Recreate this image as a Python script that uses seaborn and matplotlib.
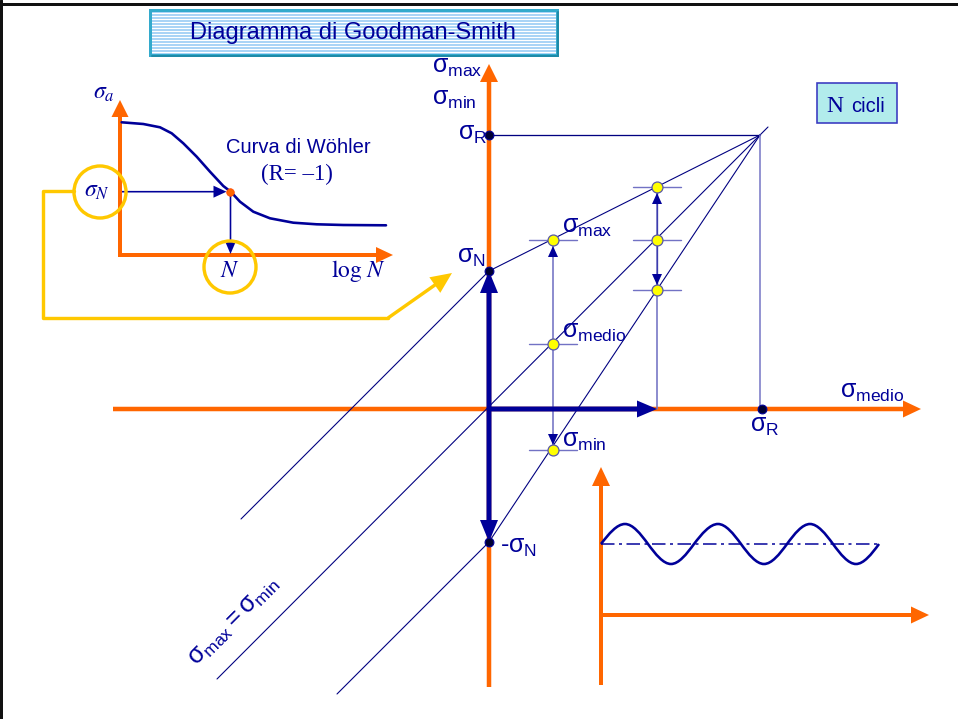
import numpy as np
import matplotlib
matplotlib.use("Agg")
import matplotlib.pyplot as plt
import seaborn as sns
from matplotlib.patches import Rectangle, Circle, PathPatch
from matplotlib.path import Path

# ---------------- values (pixel units of the schematic) -------------
# main Goodman-Smith diagram
origin_x, origin_y = 489, 409
sigma_R_y = 135            # sigma_R on the vertical axis
sigma_N_y = 271            # sigma_N
neg_sigma_N_y = 542        # -sigma_N
apex_x = 760               # sigma_medio = sigma_R
sigma_R_dot_x = 762

upper_line_x = [241, 489, 760]
upper_line_y = [519, 271, 135]
diag_line_x = [217, 768]
diag_line_y = [679, 127]
lower_line_x = [337, 489, 760]
lower_line_y = [694, 542, 135]

yellow_x = [553, 657]
yellow_max_y = [240, 187]
yellow_med_y = [344, 240]
yellow_min_y = [450, 290]

# Woehler curve (inset top left)
wohler_x = [121.7, 143.3, 160.0, 171.7, 183.3, 196.7, 210.0, 223.3, 230.7,
            240.0, 253.3, 270.0, 293.3, 316.7, 343.3, 386.0]
wohler_y = [122.3, 124.0, 127.3, 133.3, 143.3, 156.7, 171.7, 186.0, 191.7,
            201.7, 211.7, 218.3, 222.7, 224.3, 225.0, 225.3]
wohler_pt_x, wohler_pt_y = 230.5, 191.7

# yellow connector
conn_x = [74, 43, 43, 388]
conn_y = [191, 191, 318, 318]
conn_tip_x, conn_tip_y = 452, 273

# sinusoidal load history (inset bottom right): crossings / peaks / troughs
wave_x = [601, 625, 648, 671, 694, 718, 741, 764, 787, 810, 833, 856, 879]
wave_y = [544, 524, 544, 564, 544, 524, 544, 564, 544, 524, 544, 564, 544]
wave_mean_y = 544

# ---------------- style ----------------
sns.set_theme(style="white")
plt.rcParams["font.family"] = ["Liberation Sans", "DejaVu Sans"]
plt.rcParams["mathtext.fontset"] = "custom"
plt.rcParams["mathtext.rm"] = "Liberation Sans"
plt.rcParams["mathtext.it"] = "Liberation Sans"
plt.rcParams["mathtext.bf"] = "Liberation Sans:bold"

ORANGE = "#FF6600"
NAVY = "#000099"
THIN = "#000080"
LIGHT = "#7272c4"
YEL = "#FFC800"
PX = 0.72  # points per pixel at dpi 100

fig = plt.figure(figsize=(9.58, 7.19), dpi=100)
ax = fig.add_axes([0, 0, 1, 1])


def line(xs, ys, color, lw_px, z=2, **kw):
    sns.lineplot(x=xs, y=ys, sort=False, estimator=None, color=color,
                 lw=lw_px * PX, ax=ax, zorder=z, legend=False, **kw)


def arrow(x0, y0, x1, y1, color, w, hw, hl, z=3):
    ax.arrow(x0, y0, x1 - x0, y1 - y0, width=w, head_width=hw, head_length=hl,
             length_includes_head=True, fc=color, ec=color, lw=0, zorder=z)


# ---------------- page frame (top and left edges) ----------------
line([0, 958], [4, 4], "#111111", 3, z=1)
line([1.5, 1.5], [0, 719], "#111111", 3, z=1)

# ---------------- title box ----------------
ax.add_patch(Rectangle((150, 10), 407, 45, fc="#a6d2f6", ec="none", zorder=1))
ax.hlines(np.arange(12.5, 55, 3), 151, 556, color="white", lw=1.1 * PX, zorder=1.1)
ax.add_patch(Rectangle((150, 10), 407, 45, fc="none", ec="#33aacc", lw=3 * PX, zorder=1.2))
line([152, 558], [56, 56], "#1e8aa8", 2, z=1.2)
line([558, 558], [12, 56], "#1e8aa8", 2, z=1.2)
ax.text(353, 33.5, "Diagramma di Goodman-Smith", fontsize=17, color=NAVY,
        ha="center", va="center", zorder=2)

# ---------------- N cicli box ----------------
ax.add_patch(Rectangle((817, 83), 80, 40, fc="#b2ecec", ec="#3838c0", lw=1.6 * PX, zorder=1))
ax.text(843, 112, "N", fontsize=17, family="Liberation Serif", color=NAVY,
        ha="right", va="baseline", zorder=2)
ax.text(851, 112, "cicli", fontsize=14.5, color=NAVY, ha="left", va="baseline", zorder=2)

# ---------------- main axes (orange) ----------------
arrow(origin_x, 687, origin_x, 64, ORANGE, 4.5, 18, 18, z=1.5)
arrow(113, origin_y, 921, origin_y, ORANGE, 4.5, 17, 18, z=1.5)

# thin construction lines
line(upper_line_x, upper_line_y, THIN, 1.1)
line(diag_line_x, diag_line_y, THIN, 1.1)
line(lower_line_x, lower_line_y, THIN, 1.1)
line([origin_x, apex_x], [sigma_R_y, sigma_R_y], THIN, 1.3)
line([apex_x, apex_x], [sigma_R_y, origin_y], LIGHT, 1.5)

# vertical ranges at the two sigma_medio values
line([yellow_x[0], yellow_x[0]], [yellow_max_y[0], yellow_min_y[0]], LIGHT, 1.6)
line([yellow_x[1], yellow_x[1]], [yellow_max_y[1], origin_y], LIGHT, 1.6)
line([yellow_x[1], yellow_x[1]], [yellow_max_y[1], yellow_min_y[1]], "#3c3cae", 1.3, z=2.5)
for xv, ymax, ymed, ymin in zip(yellow_x, yellow_max_y, yellow_med_y, yellow_min_y):
    for yv in (ymax, ymed, ymin):
        line([xv - 24, xv + 24], [yv, yv], LIGHT, 1.4)
# small navy heads
arrow(yellow_x[0], yellow_max_y[0] + 18, yellow_x[0], yellow_max_y[0] + 6, NAVY, 0.1, 10, 11, z=3)
arrow(yellow_x[0], yellow_min_y[0] - 18, yellow_x[0], yellow_min_y[0] - 5, NAVY, 0.1, 10, 11, z=3)
arrow(yellow_x[1], yellow_max_y[1] + 18, yellow_x[1], yellow_max_y[1] + 6, NAVY, 0.1, 10, 11, z=3)
arrow(yellow_x[1], yellow_min_y[1] - 18, yellow_x[1], yellow_min_y[1] - 5, NAVY, 0.1, 10, 11, z=3)

# thick navy arrows from origin
arrow(origin_x, origin_y, origin_x, sigma_N_y, NAVY, 5, 18, 22, z=4)
arrow(origin_x, origin_y, origin_x, neg_sigma_N_y, NAVY, 5, 18, 22, z=4)
arrow(origin_x, origin_y, yellow_x[1], origin_y, NAVY, 5, 17, 20, z=4)

# points
all_yx = yellow_x * 3
all_yy = yellow_max_y + yellow_med_y + yellow_min_y
sns.scatterplot(x=all_yx, y=all_yy, s=62, color="#FFFF00", edgecolor="#5858a8",
                linewidth=0.9, ax=ax, zorder=6, legend=False)
sns.scatterplot(x=[origin_x, origin_x, origin_x, sigma_R_dot_x],
                y=[sigma_R_y, sigma_N_y, neg_sigma_N_y, origin_y],
                s=40, color="#000033", edgecolor=NAVY, linewidth=0.8,
                ax=ax, zorder=6, legend=False)

# labels main diagram
lab = dict(fontsize=18, color=NAVY, zorder=7)
ax.text(432, 73, r"$\sigma_{\mathrm{max}}$", ha="left", va="baseline", **lab)
ax.text(432, 105, r"$\sigma_{\mathrm{min}}$", ha="left", va="baseline", **lab)
ax.text(487, 140, r"$\sigma_{\mathrm{R}}$", ha="right", va="baseline", **lab)
ax.text(486, 263, r"$\sigma_{\mathrm{N}}$", ha="right", va="baseline", **lab)
ax.text(562, 233, r"$\sigma_{\mathrm{max}}$", ha="left", va="baseline", **lab)
ax.text(562, 338, r"$\sigma_{\mathrm{medio}}$", ha="left", va="baseline", **lab)
ax.text(562, 447, r"$\sigma_{\mathrm{min}}$", ha="left", va="baseline", **lab)
ax.text(500, 553, r"-$\sigma_{\mathrm{N}}$", ha="left", va="baseline", **lab)
ax.text(750, 432, r"$\sigma_{\mathrm{R}}$", ha="left", va="baseline", **lab)
ax.text(840, 398, r"$\sigma_{\mathrm{medio}}$", ha="left", va="baseline", **lab)
ax.text(197, 667, r"$\sigma_{\mathrm{max}} = \sigma_{\mathrm{min}}$", rotation=45,
        rotation_mode="anchor", ha="left", va="baseline", **lab)

# ---------------- Woehler inset ----------------
arrow(120, 257, 120, 100, ORANGE, 4, 17, 17, z=1.5)
arrow(118, 255, 393, 255, ORANGE, 4, 16, 17, z=1.5)
line(wohler_x, wohler_y, NAVY, 2.6, z=3)
arrow(122, wohler_pt_y, wohler_pt_x - 4, wohler_pt_y, NAVY, 1.6, 12, 13, z=3)
arrow(wohler_pt_x, wohler_pt_y + 3, wohler_pt_x, 254, NAVY, 1.6, 12, 14, z=3)
sns.scatterplot(x=[wohler_pt_x], y=[wohler_pt_y], s=30, color=ORANGE, edgecolor="#ff4400",
                linewidth=0.5, ax=ax, zorder=6, legend=False)
ax.add_patch(Circle((100, 192), 26, fill=False, ec=YEL, lw=3.4 * PX, zorder=5))
ax.add_patch(Circle((230, 267), 26, fill=False, ec=YEL, lw=3.4 * PX, zorder=5))

line(conn_x, conn_y, YEL, 3.4, z=2)
arrow(conn_x[-1], conn_y[-1], conn_tip_x, conn_tip_y, YEL, 3.4, 19, 21, z=2)

ser = dict(color=NAVY, math_fontfamily="stix", zorder=7)
ax.text(93, 99, r"$\sigma_{a}$", fontsize=17, ha="left", va="baseline", **ser)
ax.text(84, 197, r"$\sigma_{N}$", fontsize=17, ha="left", va="baseline", **ser)
ax.text(230, 277, r"$N$", fontsize=17, ha="center", va="baseline", **ser)
ax.text(331, 277, r"$\log\, N$", fontsize=17, ha="left", va="baseline", **ser)
ax.text(298, 153, "Curva di Wöhler", fontsize=14.5, color=NAVY, ha="center",
        va="baseline", zorder=7)
ax.text(297, 180, "(R= \u20131)", fontsize=16.5, family="Liberation Serif", color=NAVY,
        ha="center", va="baseline", zorder=7)

# ---------------- load history inset ----------------
arrow(601, 685, 601, 467, ORANGE, 4, 18, 19, z=1.5)
arrow(599, 615, 929, 615, ORANGE, 4, 17, 18, z=1.5)
line([wave_x[0], wave_x[-1]], [wave_mean_y, wave_mean_y], NAVY, 1.5, z=2,
     linestyle=(0, (9, 3, 2, 3)))
verts = [(wave_x[0], wave_y[0])]
codes = [Path.MOVETO]
for i in range(len(wave_x) - 1):
    x0, y0, x1, y1 = wave_x[i], wave_y[i], wave_x[i + 1], wave_y[i + 1]
    q = x1 - x0
    if y0 == wave_mean_y:      # crossing -> extremum
        c1 = (x0 + 0.326 * q, y0 + 0.512 * (y1 - y0))
        c2 = (x0 + 0.665 * q, y1)
    else:                      # extremum -> crossing
        c1 = (x0 + 0.335 * q, y0)
        c2 = (x0 + 0.674 * q, y1 + 0.512 * (y0 - y1))
    verts += [c1, c2, (x1, y1)]
    codes += [Path.CURVE4] * 3
ax.add_patch(PathPatch(Path(verts, codes), fill=False, ec=NAVY, lw=2.6 * PX, zorder=3))

ax.set_xlim(0, 958)
ax.set_ylim(719, 0)
ax.set_axis_off()
fig.savefig("out.png", dpi=100)
